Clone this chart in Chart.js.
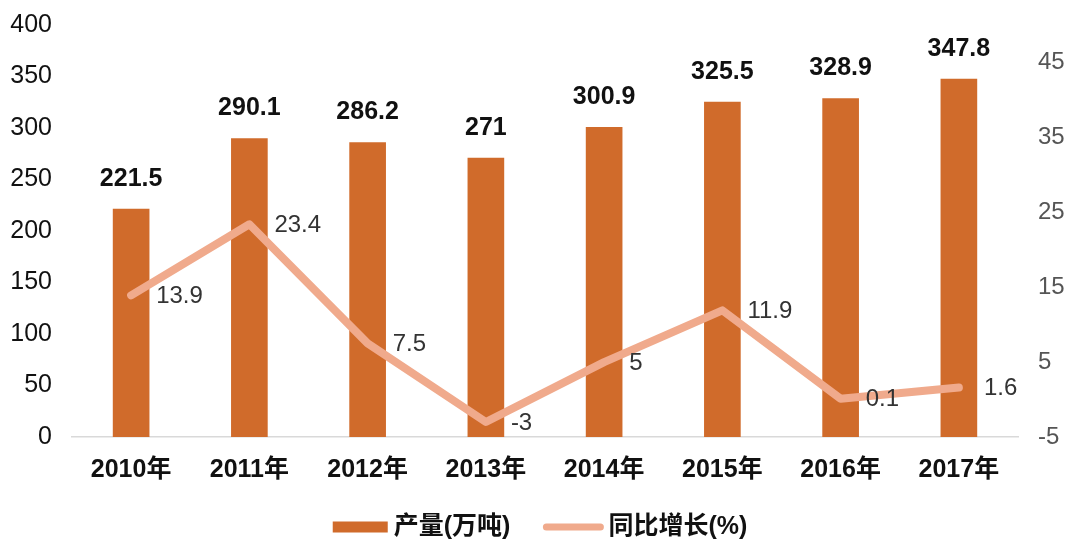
<!DOCTYPE html>
<html lang="zh">
<head>
    <meta charset="UTF-8">
    <title>产量与同比增长</title>
    <style>
        * { margin: 0; padding: 0; box-sizing: border-box; }
        body { background: #fff; width: 1080px; height: 551px; overflow: hidden; }
        .chart-box { position: relative; width: 1080px; height: 551px; }
    </style>
    <script src="https://cdn.jsdelivr.net/npm/chart.js"></script>
</head>
<body>
<div class="chart-box">
    <canvas id="mainChart"></canvas>
</div>
<script>
    // data
    const years = ['2010年', '2011年', '2012年', '2013年', '2014年', '2015年', '2016年', '2017年'];
    const output = [221.5, 290.1, 286.2, 271, 300.9, 325.5, 328.9, 347.8];
    const growth = [13.9, 23.4, 7.5, -3, 5, 11.9, 0.1, 1.6];
    const leftTicks = [0, 50, 100, 150, 200, 250, 300, 350, 400];
    const rightTicks = [-5, 5, 15, 25, 35, 45];

    const FONT = "'Liberation Sans', Arial, 'Noto Sans CJK SC', sans-serif";
    const BAR_COLOR = '#D06B2B';
    const LINE_COLOR = '#F0AA8C';

    // value labels above bars / right of line points
    const valueLabels = {
        id: 'valueLabels',
        afterDatasetsDraw(chart) {
            const ctx = chart.ctx;
            ctx.save();
            chart.data.datasets.forEach((ds, di) => {
                const meta = chart.getDatasetMeta(di);
                meta.data.forEach((el, i) => {
                    if (ds.type === 'bar') {
                        ctx.font = 'bold 25px ' + FONT;
                        ctx.fillStyle = '#111';
                        ctx.textAlign = 'center';
                        ctx.textBaseline = 'alphabetic';
                        ctx.fillText(String(ds.data[i]), el.x, el.y - 23);
                    } else {
                        ctx.font = '24px ' + FONT;
                        ctx.fillStyle = '#333';
                        ctx.textAlign = 'left';
                        ctx.textBaseline = 'middle';
                        ctx.fillText(String(ds.data[i]), el.x + 25, el.y + 1);
                    }
                });
            });
            ctx.restore();
        }
    };

    // legend drawn at the bottom: wide bar swatch + rounded line swatch
    const bottomLegend = {
        id: 'bottomLegend',
        afterDraw(chart) {
            const ctx = chart.ctx;
            const cy = 527;
            ctx.save();
            ctx.font = 'bold 25px ' + FONT;
            ctx.textBaseline = 'middle';
            ctx.textAlign = 'left';
            const items = chart.data.datasets.map(ds => ({
                ds: ds,
                sw: ds.type === 'bar' ? 55 : 60,
                gap: ds.type === 'bar' ? 6 : 5,
                tw: ctx.measureText(ds.label).width
            }));
            const between = 33;
            let total = between * (items.length - 1);
            items.forEach(it => { total += it.sw + it.gap + it.tw; });
            let x = chart.width / 2 - total / 2;
            items.forEach(it => {
                if (it.ds.type === 'bar') {
                    ctx.fillStyle = it.ds.backgroundColor;
                    ctx.fillRect(x, cy - 5.5, it.sw, 11);
                } else {
                    ctx.strokeStyle = it.ds.borderColor;
                    ctx.lineWidth = 7;
                    ctx.lineCap = 'round';
                    ctx.beginPath();
                    ctx.moveTo(x + 3, cy);
                    ctx.lineTo(x + it.sw - 3, cy);
                    ctx.stroke();
                }
                x += it.sw + it.gap;
                ctx.fillStyle = '#111';
                ctx.fillText(it.ds.label, x, cy);
                x += it.tw + between;
            });
            ctx.restore();
        }
    };

    // keep the tick padding from pushing the plot area down
    function fixSide(width) {
        return function (scale) {
            scale.width = width;
            scale.paddingTop = 12;
            scale.paddingBottom = 12;
        };
    }

    const ctx = document.getElementById('mainChart').getContext('2d');
    new Chart(ctx, {
        data: {
            labels: years,
            datasets: [
                {
                    type: 'bar',
                    label: '产量(万吨)',
                    data: output,
                    yAxisID: 'y',
                    backgroundColor: BAR_COLOR,
                    categoryPercentage: 1,
                    barPercentage: 0.31,
                    order: 1
                },
                {
                    type: 'line',
                    label: '同比增长(%)',
                    data: growth,
                    yAxisID: 'y1',
                    borderColor: LINE_COLOR,
                    borderWidth: 8,
                    borderCapStyle: 'round',
                    borderJoinStyle: 'round',
                    pointRadius: 0,
                    tension: 0,
                    order: 0
                }
            ]
        },
        options: {
            responsive: true,
            maintainAspectRatio: false,
            animation: false,
            layout: { padding: { top: 25, bottom: 0, left: 0, right: 0 } },
            plugins: {
                legend: { display: false },
                tooltip: { enabled: false }
            },
            scales: {
                x: {
                    offset: true,
                    grid: { display: false, drawTicks: false },
                    border: { display: true, color: '#d9d9d9', width: 1.5 },
                    ticks: {
                        padding: 18,
                        color: '#111',
                        font: { family: FONT, size: 25, weight: 'bold' }
                    },
                    afterFit(scale) { scale.height = 114; }
                },
                y: {
                    position: 'left',
                    min: 0,
                    max: 400,
                    grid: { display: false, drawTicks: false },
                    border: { display: false },
                    afterBuildTicks(scale) { scale.ticks = leftTicks.map(v => ({ value: v })); },
                    ticks: {
                        padding: 20,
                        color: '#111',
                        font: { family: FONT, size: 25 }
                    },
                    afterFit: fixSide(72)
                },
                y1: {
                    position: 'right',
                    min: -5,
                    max: 50,
                    grid: { display: false, drawTicks: false },
                    border: { display: false },
                    afterBuildTicks(scale) { scale.ticks = rightTicks.map(v => ({ value: v })); },
                    ticks: {
                        padding: 20,
                        color: '#555',
                        font: { family: FONT, size: 24 }
                    },
                    afterFit: fixSide(62)
                }
            }
        },
        plugins: [valueLabels, bottomLegend]
    });
</script>
</body>
</html>
